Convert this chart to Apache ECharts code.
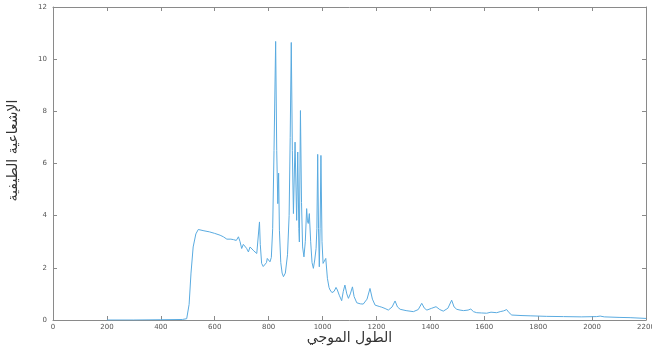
<!DOCTYPE html>
<html>
<head>
<meta charset="utf-8">
<script src="https://cdn.jsdelivr.net/npm/echarts@6/dist/echarts.min.js"></script>
<style>
  html, body { margin: 0; padding: 0; background: #fff; }
  #main { width: 652px; height: 347px; }
</style>
</head>
<body>
<div id="main"></div>
<script>
// wavelength (x) and spectral irradiance (y)
var wavelength = [200, 300, 400, 480, 496, 505, 512, 520, 530, 539, 560, 580, 600, 620, 632, 645, 651, 660, 670, 680,
  688, 694, 700, 706, 712, 718, 725, 731, 737, 745, 756, 762, 766, 769, 774, 780, 787, 792, 795, 800,
  805, 810, 815, 820, 826, 830, 834, 837, 840, 845, 850, 855, 862, 870, 876, 880, 884, 888, 892, 898,
  904, 908, 912, 914, 918, 922, 926, 931, 936, 941, 944, 947, 951, 956, 961, 966, 971, 976, 979, 982,
  985, 988, 991, 994, 998, 1002, 1007, 1012, 1018, 1024, 1028, 1035, 1043, 1050, 1055, 1062, 1071, 1077, 1083, 1090,
  1096, 1103, 1111, 1117, 1127, 1140, 1151, 1165, 1176, 1185, 1195, 1210, 1220, 1232, 1244, 1258, 1269, 1278, 1288, 1310,
  1337, 1355, 1368, 1378, 1387, 1405, 1421, 1435, 1448, 1465, 1479, 1488, 1498, 1510, 1523, 1540, 1550, 1560, 1572, 1590,
  1609, 1625, 1646, 1659, 1672, 1683, 1692, 1702, 1740, 1770, 1830, 1894, 1960, 2017, 2030, 2045, 2100, 2141, 2200];
var irradiance = [0, 0, 0.01, 0.02, 0.05, 0.6, 1.8, 2.8, 3.3, 3.47, 3.42, 3.38, 3.32, 3.25, 3.19, 3.1, 3.03, 3.1, 3.08, 3.05,
  3.19, 3.0, 2.74, 2.9, 2.93, 2.75, 2.61, 2.8, 2.87, 2.65, 2.55, 2.6, 3.76, 2.9, 2.17, 2.05, 2.01, 2.2, 2.36, 2.3,
  2.23, 2.4, 3.5, 6.5, 10.68, 6.5, 4.46, 5.63, 3.44, 2.2, 1.8, 1.66, 1.8, 2.5, 4, 7, 10.64, 6.5, 4.08, 6.82,
  3.82, 6.44, 3.5, 2.99, 8.03, 4.5, 2.8, 2.42, 3.0, 4.27, 3.8, 3.7, 4.08, 3.0, 2.2, 1.98, 2.3, 2.74, 3.5, 6.35,
  3.5, 2.04, 3.5, 6.31, 3.0, 2.17, 2.2, 2.36, 1.6, 1.25, 1.15, 1.05, 1.1, 1.25, 1.15, 0.95, 0.74, 1.1, 1.34, 1.0,
  0.83, 1.0, 1.27, 0.9, 0.66, 0.62, 0.61, 0.8, 1.21, 0.8, 0.57, 0.52, 0.49, 0.44, 0.38, 0.5, 0.73, 0.5, 0.41, 0.36,
  0.32, 0.4, 0.64, 0.45, 0.38, 0.45, 0.51, 0.4, 0.34, 0.45, 0.76, 0.5, 0.41, 0.38, 0.36, 0.38, 0.42, 0.32, 0.28, 0.27,
  0.26, 0.3, 0.28, 0.32, 0.35, 0.4, 0.28, 0.19, 0.17, 0.16, 0.14, 0.13, 0.12, 0.13, 0.15, 0.12, 0.1, 0.09, 0.06];

var xName = 'الطول الموجي';
var yName = 'الإشعاعية الطيفية';

var chart = echarts.init(document.getElementById('main'), null, { renderer: 'canvas' });

var axisLine = { show: true, onZero: false, lineStyle: { color: '#8a8a8a', width: 1 } };
var tick = { show: true, inside: true, length: 4, lineStyle: { color: '#8a8a8a' } };
var lbl = { fontSize: 7, color: '#555', fontFamily: 'DejaVu Sans', formatter: function (v) { return String(v); } };

var pts = wavelength.map(function (w, i) { return [w, irradiance[i]]; });

var option = {
  animation: false,
  grid: { left: 53, right: 6, top: 7, bottom: 27, outerBoundsMode: 'none', containLabel: false },
  xAxis: [{
    type: 'value', min: 0, max: 2200, interval: 200,
    axisLine: axisLine, axisTick: tick, splitLine: { show: false },
    axisLabel: Object.assign({ margin: 4 }, lbl),
    name: xName, nameLocation: 'middle', nameGap: 11, nameMoveOverlap: false,
    nameTextStyle: { fontSize: 14, color: '#333', fontFamily: 'DejaVu Sans' }
  }, {
    type: 'value', position: 'top', min: 0, max: 2200, interval: 200,
    axisLine: axisLine, axisTick: tick, splitLine: { show: false },
    axisLabel: { show: false }
  }],
  yAxis: [{
    type: 'value', min: 0, max: 12, interval: 2,
    axisLine: axisLine, axisTick: tick, splitLine: { show: false },
    axisLabel: Object.assign({ margin: 6 }, lbl),
    name: yName, nameLocation: 'middle', nameGap: 33, nameRotate: 90, nameMoveOverlap: false,
    nameTextStyle: { fontSize: 14, color: '#333', fontFamily: 'DejaVu Sans', padding: [0, 0, 0, 26] }
  }, {
    type: 'value', position: 'right', min: 0, max: 12, interval: 2,
    axisLine: axisLine, axisTick: tick, splitLine: { show: false },
    axisLabel: { show: false }
  }],
  series: [{
    type: 'line',
    data: pts,
    showSymbol: false,
    lineStyle: { color: '#5aabe0', width: 1 },
    itemStyle: { color: '#5aabe0' }
  }]
};

chart.setOption(option);
</script>
</body>
</html>
